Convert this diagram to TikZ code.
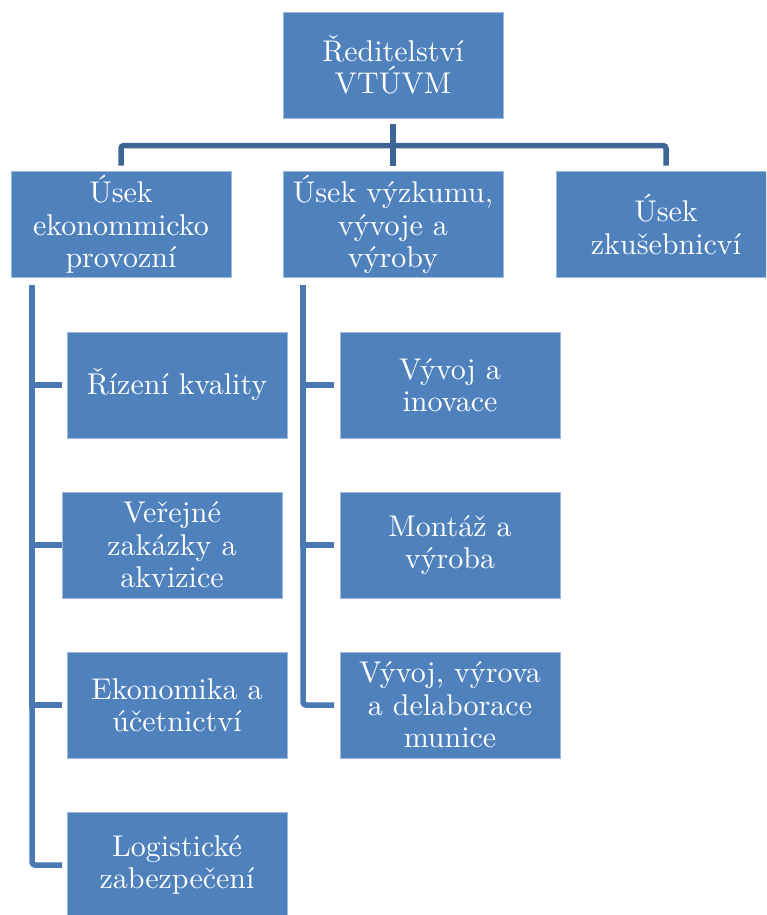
\documentclass[tikz,border=0pt]{standalone}
\usepackage{fontspec}
\setmainfont{lmroman10-regular.otf}
\definecolor{boxblue}{RGB}{79,129,189}
\definecolor{busblue}{RGB}{61,101,150}
\definecolor{sideblue}{RGB}{74,120,178}
\begin{document}
\begin{tikzpicture}[x=1pt,y=-1pt,
  box/.style={fill=boxblue,draw=boxblue!55!white,line width=0.6pt,text=white,align=center,
    minimum width=220pt,minimum height=106pt,inner sep=0pt,outer sep=0pt,
    font=\fontsize{30}{32.5}\selectfont},
  bus/.style={draw=busblue,line width=5.5pt,shorten <=6pt,shorten >=6pt},
  side/.style={draw=sideblue,line width=5.5pt}]
\useasboundingbox (0,0) rectangle (766,915);
\clip (0,0) rectangle (766,915);
\node[box] (top) at (393,65) {Ředitelství\\VTÚVM};
\node[box] (eko) at (121,224.5) {Úsek\\ekonommicko\\provozní};
\node[box] (vyz) at (393,224.5) {Úsek výzkumu,\\vývoje a\\výroby};
\node[box] (zku) at (666,224.5) {Úsek\\zkušebnicví};
\node[box] (kval) at (177,385) {Řízení kvality};
\node[box] (verej) at (172,545) {Veřejné\\zakázky a\\akvizice};
\node[box] (ekon) at (177,705) {Ekonomika a\\účetnictví};
\node[box] (logi) at (177,865) {Logistické\\zabezpečení};
\node[box] (inov) at (450,385) {Vývoj a\\inovace};
\node[box] (mont) at (450,545) {Montáž a\\výroba};
\node[box] (delab) at (450,705) {Vývoj, výrova\\a delaborace\\munice};
\draw[bus] (top.south) -- (vyz.north);
\draw[bus,rounded corners=3pt] (eko.north) -- ++(0,-26) -| (zku.north);
\coordinate (lsp) at (32,285);
\coordinate (lend) at (62,0);
\coordinate (msp) at (303,285);
\coordinate (mend) at (334,0);
\draw[side] (lsp) |- (kval.west -| lend);
\draw[side] (lsp) |- (verej.west -| lend);
\draw[side] (lsp) |- (ekon.west -| lend);
\draw[side,rounded corners=3pt] (lsp) |- (logi.west -| lend);
\draw[side] (msp) |- (inov.west -| mend);
\draw[side] (msp) |- (mont.west -| mend);
\draw[side,rounded corners=3pt] (msp) |- (delab.west -| mend);
\end{tikzpicture}
\end{document}
